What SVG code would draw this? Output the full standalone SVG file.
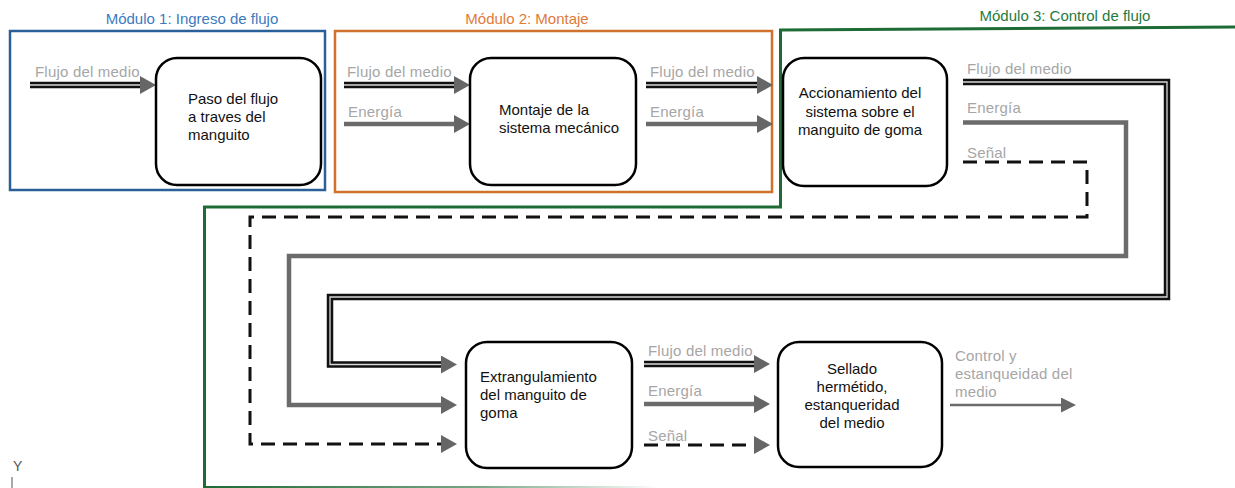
<svg xmlns="http://www.w3.org/2000/svg" width="1235" height="488" viewBox="0 0 1235 488">
<style>
  .node rect { fill: #fff; stroke: #000; stroke-width: 2.5; }
  .nt { font-family: "Liberation Sans", Arial, sans-serif; font-size: 15px; fill: #111; }
  .lbl { font-family: "Liberation Sans", Arial, sans-serif; font-size: 15px; fill: #a6a6a6; letter-spacing: 0.2px; }
  .ttl { font-family: "Liberation Sans", Arial, sans-serif; font-size: 15px; text-anchor: middle; }
  .dblo { fill: none; stroke: #111; stroke-width: 6.5; stroke-linejoin: miter; }
  .dbli { fill: none; stroke: #d8d8d8; stroke-width: 1.3; stroke-linejoin: miter; }
  .en { fill: none; stroke: #6b6b6b; stroke-width: 4.5; stroke-linejoin: miter; }
  .sg { fill: none; stroke: #111; stroke-width: 3; stroke-dasharray: 14 8; }
</style>
<defs>
  <marker id="ah" markerUnits="userSpaceOnUse" markerWidth="16" markerHeight="18" viewBox="0 0 16 18" refX="0" refY="9" orient="auto">
    <path d="M0,0 L16,9 L0,18 z" fill="#666"/>
  </marker>
  <marker id="ahs" markerUnits="userSpaceOnUse" markerWidth="15" markerHeight="15" viewBox="0 0 15 15" refX="0" refY="7.5" orient="auto">
    <path d="M0,0 L15,7.5 L0,15 z" fill="#666"/>
  </marker>
  <linearGradient id="fade" x1="205" y1="0" x2="660" y2="0" gradientUnits="userSpaceOnUse">
    <stop offset="0" stop-color="#1e6b35"/>
    <stop offset="0.6" stop-color="#1e6b35" stop-opacity="0.6"/>
    <stop offset="1" stop-color="#1e6b35" stop-opacity="0"/>
  </linearGradient>
</defs>
<rect width="1235" height="488" fill="#fff"/>

<g id="modules">
  <rect x="10" y="31" width="315" height="159" fill="none" stroke="#2a6099" stroke-width="2.5"/>
  <text class="ttl" x="192" y="24" fill="#3b7bbf">Módulo 1: Ingreso de flujo</text>
  <rect x="335" y="31" width="437" height="161" fill="none" stroke="#d0712e" stroke-width="2.5"/>
  <text class="ttl" x="527" y="24" fill="#e07b39">Módulo 2: Montaje</text>
  <path d="M1235,27 L780.5,30 V207 H204.5 V488" fill="none" stroke="#1e6b35" stroke-width="3"/>
  <line x1="205" y1="487" x2="660" y2="487" stroke="url(#fade)" stroke-width="2"/>
  <text class="ttl" x="1065" y="21" fill="#1f7a3f">Módulo 3: Control de flujo</text>
</g>

<g id="connectors">
  <path class="dblo" d="M30,85 H140" marker-end="url(#ah)"/>
  <path class="dbli" d="M30,85 H140"/>
  <text class="lbl" x="35" y="77">Flujo del medio</text>
  <path class="dblo" d="M344,85 H454" marker-end="url(#ah)"/>
  <path class="dbli" d="M344,85 H454"/>
  <text class="lbl" x="347" y="77">Flujo del medio</text>
  <path class="en" d="M344,124 H454" marker-end="url(#ah)"/>
  <text class="lbl" x="348" y="117">Energía</text>
  <path class="dblo" d="M646,85 H757" marker-end="url(#ah)"/>
  <path class="dbli" d="M646,85 H757"/>
  <text class="lbl" x="650" y="77">Flujo del medio</text>
  <path class="en" d="M646,124 H757" marker-end="url(#ah)"/>
  <text class="lbl" x="650" y="117">Energía</text>
  <path class="dblo" d="M963,82 H1167 V297 H330 V364.5 H441" marker-end="url(#ah)"/>
  <path class="dbli" d="M963,82 H1167 V297 H330 V364.5 H441"/>
  <text class="lbl" x="967" y="74">Flujo del medio</text>
  <path class="en" d="M963,122.5 H1126 V256 H289 V405 H441" marker-end="url(#ah)"/>
  <text class="lbl" x="967" y="113">Energía</text>
  <path class="sg" d="M963,162 H1087 V217 H250 V444 H441" marker-end="url(#ah)"/>
  <text class="lbl" x="967" y="158">Señal</text>
  <path class="dblo" d="M644,364 H754" marker-end="url(#ah)"/>
  <path class="dbli" d="M644,364 H754"/>
  <text class="lbl" x="648" y="356">Flujo del medio</text>
  <path class="en" d="M644,404 H754" marker-end="url(#ah)"/>
  <text class="lbl" x="648" y="396">Energía</text>
  <path class="sg" d="M644,445 H754" marker-end="url(#ah)"/>
  <text class="lbl" x="648" y="441">Señal</text>
  <path d="M950,405 H1061" fill="none" stroke="#6b6b6b" stroke-width="2.5" marker-end="url(#ahs)"/>
  <text class="lbl" x="955" y="361">Control y</text>
  <text class="lbl" x="955" y="379">estanqueidad del</text>
  <text class="lbl" x="955" y="397">medio</text>
</g>

<g id="node1" class="node">
  <rect x="156" y="58" width="165" height="127" rx="21"/>
  <text class="nt" x="188" y="104">Paso del flujo</text>
  <text class="nt" x="188" y="122">a traves del</text>
  <text class="nt" x="188" y="140">manguito</text>
</g>
<g id="node2" class="node">
  <rect x="470" y="58" width="166" height="127" rx="21"/>
  <text class="nt" x="499" y="115">Montaje de la</text>
  <text class="nt" x="499" y="133">sistema mecánico</text>
</g>
<g id="node3" class="node">
  <rect x="783" y="58" width="164" height="128" rx="21"/>
  <text class="nt" x="860" y="98" text-anchor="middle">Accionamiento del</text>
  <text class="nt" x="860" y="117" text-anchor="middle">sistema sobre el</text>
  <text class="nt" x="860" y="135" text-anchor="middle">manguito de goma</text>
</g>
<g id="node4" class="node">
  <rect x="466" y="342" width="166" height="126" rx="21"/>
  <text class="nt" x="480" y="382">Extrangulamiento</text>
  <text class="nt" x="480" y="400">del manguito de</text>
  <text class="nt" x="480" y="418">goma</text>
</g>
<g id="node5" class="node">
  <rect x="778" y="342" width="164" height="125" rx="21"/>
  <text class="nt" x="852" y="374" text-anchor="middle">Sellado</text>
  <text class="nt" x="852" y="392" text-anchor="middle">hermétido,</text>
  <text class="nt" x="852" y="410" text-anchor="middle">estanqueridad</text>
  <text class="nt" x="852" y="428" text-anchor="middle">del medio</text>
</g>

<g id="corner-mark">
  <text x="13" y="471" font-family="Liberation Sans, Arial, sans-serif" font-size="14" fill="#555">Y</text>
  <line x1="12" y1="477" x2="12" y2="488" stroke="#555" stroke-width="1"/>
</g>
</svg>
